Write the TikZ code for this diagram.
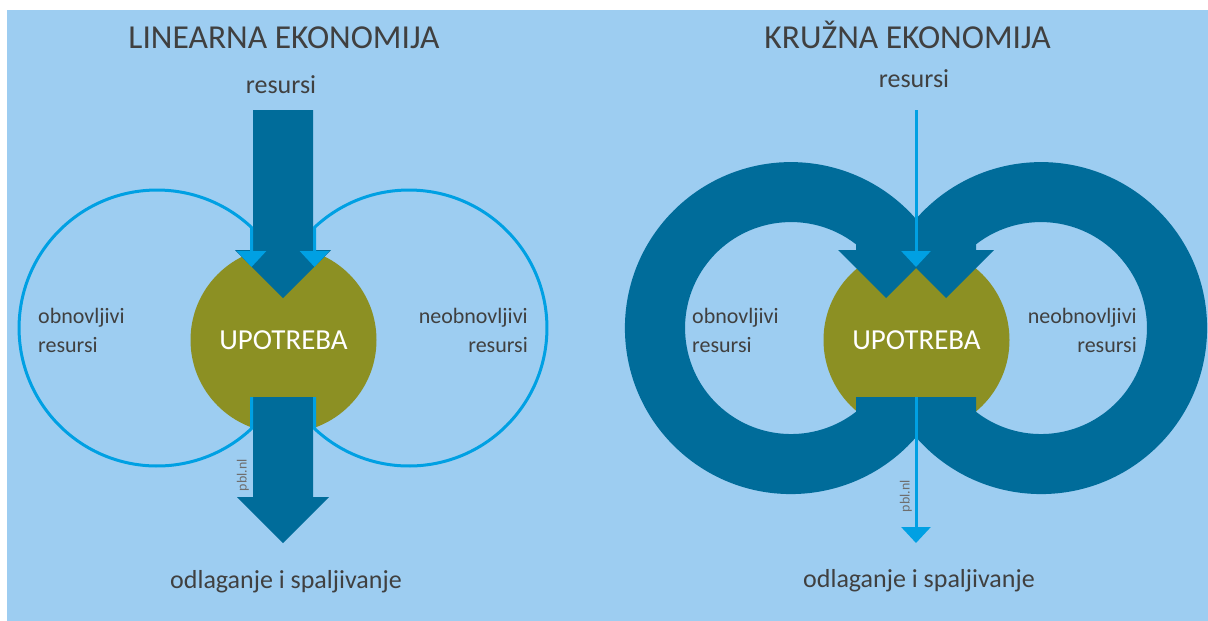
\documentclass[tikz,border=0pt]{standalone}
\usepackage{fontspec}
\setmainfont{Carlito}
\usetikzlibrary{arrows.meta}
\definecolor{skyblue}{RGB}{157,205,241}
\definecolor{petrol}{RGB}{0,108,154}
\definecolor{cyanline}{RGB}{0,160,227}
\definecolor{usegreen}{RGB}{140,144,35}
\definecolor{textgray}{RGB}{64,64,64}
\definecolor{markgray}{RGB}{110,110,110}
\begin{document}
\begin{tikzpicture}[x=1pt,y=-1pt,
  txt/.style={text=textgray, inner sep=0pt},
  title/.style={txt, anchor=base, font=\fontsize{33.5}{40}\selectfont},
  inlabel/.style={txt, anchor=base, font=\fontsize{26}{31}\selectfont},
  side/.style={txt, font=\fontsize{22}{29}\selectfont},
  outlabel/.style={txt, anchor=base, font=\fontsize{26}{31}\selectfont},
  sourcemark/.style={text=markgray, inner sep=0pt, rotate=90, font=\fontsize{14}{16}\selectfont},
  usecircle/.style={circle, fill=usegreen, minimum size=186pt, inner sep=0pt,
    text=white, font=\fontsize{29}{34}\selectfont},
  loopline/.style={draw=cyanline, line width=3pt, -{Triangle[width=29pt,length=16pt]}}]
\useasboundingbox (0,0) rectangle (1208,621);
\fill[skyblue] (7,10) rectangle (1208,621);

% linear economy
\node[usecircle] (linuse) at (283.5,340) {UPOTREBA};
\fill[petrol] (253,110) -- (313,110) -- (313,250) -- (331,250) -- (283,298) -- (235,250) -- (253,250) -- cycle;
\fill[petrol] (253,397) -- (313,397) -- (313,497) -- (329,497) -- (283,543) -- (237,497) -- (253,497) -- cycle;
\draw[loopline] (251.5,397) -- (251.5,428.6) arc[start angle=46.8, end angle=313.2, radius=138] -- (251.5,267);
\draw[loopline] (314.5,397) -- (314.5,428.6) arc[start angle=133.2, end angle=-133.2, radius=138] -- (314.5,267);
\node[title] (lintitle) at (284,48) {LINEARNA EKONOMIJA};
\node[inlabel] (linin) at (281,93) {resursi};
\node[side, anchor=base west] (linren1) at (38,323) {obnovljivi};
\node[side, anchor=base west] (linren2) at (38,352) {resursi};
\node[side, anchor=base east] (linnon1) at (528,323) {neobnovljivi};
\node[side, anchor=base east] (linnon2) at (528,352) {resursi};
\node[sourcemark] (linpbl) at (243,475) {pbl.nl};
\node[outlabel] (linout) at (286,588) {odlaganje i spaljivanje};

% circular economy
\node[usecircle] (circuse) at (916.5,340) {UPOTREBA};
\fill[petrol] (916,397) -- (916,437.2) arc[start angle=41.1, end angle=318.9, radius=166]
  -- (916,250) -- (934,250) -- (886,298) -- (838,250) -- (856,250) -- (856,244.3)
  arc[start angle=307.8, end angle=52.2, radius=106] -- (856,397) -- cycle;
\fill[petrol] (916,397) -- (916,437.2) arc[start angle=138.9, end angle=-138.9, radius=166]
  -- (916,250) -- (898,250) -- (946,298) -- (994,250) -- (976,250) -- (976,244.3)
  arc[start angle=-127.8, end angle=127.8, radius=106] -- (976,397) -- cycle;
\draw[loopline] (916,110) -- (916,267);
\draw[loopline] (916,397) -- (916,543);
\node[title] (circtitle) at (907.5,48) {KRUŽNA EKONOMIJA};
\node[inlabel] (circin) at (914,87) {resursi};
\node[side, anchor=base west] (circren1) at (692,323) {obnovljivi};
\node[side, anchor=base west] (circren2) at (692,352) {resursi};
\node[side, anchor=base east] (circnon1) at (1137,323) {neobnovljivi};
\node[side, anchor=base east] (circnon2) at (1137,352) {resursi};
\node[sourcemark] (circpbl) at (906,496) {pbl.nl};
\node[outlabel] (circout) at (919,587) {odlaganje i spaljivanje};
\end{tikzpicture}
\end{document}
